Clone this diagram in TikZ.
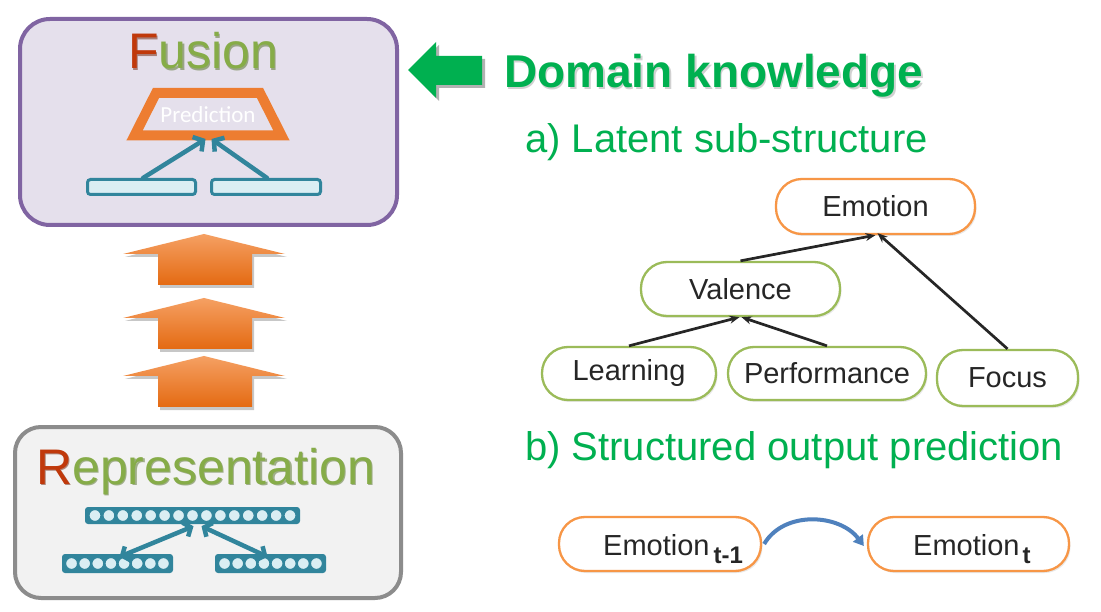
\documentclass[tikz,border=0pt]{standalone}
\usepackage{fontspec}
\setmainfont{Liberation Sans}
\newfontfamily\calibrifont{Carlito}
\usetikzlibrary{arrows.meta,calc,shadows}
\definecolor{purp}{HTML}{8064A2}
\definecolor{purpfill}{HTML}{E5E0EC}
\definecolor{grayb}{HTML}{8C8C8C}
\definecolor{grayfill}{HTML}{F2F2F2}
\definecolor{tealc}{HTML}{31859C}
\definecolor{lightb}{HTML}{DAEEF3}
\definecolor{orgc}{HTML}{ED7D31}
\definecolor{orgtop}{HTML}{F5A063}
\definecolor{orgbot}{HTML}{E46A12}
\definecolor{orgnode}{HTML}{F79646}
\definecolor{grnnode}{HTML}{9BBB59}
\definecolor{kgreen}{HTML}{00B050}
\definecolor{fred}{HTML}{C0390B}
\definecolor{fredshadow}{HTML}{6E1F05}
\definecolor{fgreen}{HTML}{86AC48}
\definecolor{fshadow}{HTML}{4E6B20}
\definecolor{blc}{HTML}{4F81BD}
\definecolor{inkc}{HTML}{262626}
\newcommand{\myvecbar}[4]{% x1 x2 ymid n
  \pgfmathsetmacro{\vspace}{(#2-#1-6)/#4}
  \foreach \i in {1,...,#4}{
    \filldraw[fill=lightb, draw=tealc, line width=1.2]
      ({#1+3+\vspace*(\i-0.5)},#3) circle[radius=6];
  }
}
\begin{document}
\begin{tikzpicture}[x=1pt,y=-1pt,
  tnode/.style={draw, line width=2.3, rounded corners=26, fill=white, inner sep=0,
    font=\fontsize{29}{34}\selectfont, text=inkc,
    drop shadow={shadow xshift=1.5pt, shadow yshift=-2pt, opacity=.18}},
  gnode/.style={tnode, draw=grnnode},
  onode/.style={tnode, draw=orgnode},
  lbox/.style={draw=tealc, fill=lightb, line width=3, rounded corners=3, inner sep=0},
  vbar/.style={fill=tealc, rounded corners=3, inner sep=0},
  tarrow/.style={draw=tealc, line width=4.5, line cap=round},
  karrow/.style={draw=inkc, line width=2.7, -{Stealth[length=10,width=8]}},
  sect/.style={text=kgreen, font=\fontsize{40}{44}\selectfont, anchor=base west, inner sep=0},
  title/.style={anchor=base west, inner sep=0, font=\fontsize{50}{52}\selectfont},
]
\useasboundingbox (0,0) rectangle (1101,612);
\fill[white] (0,0) rectangle (1101,612);

% ---------- Fusion box ----------
\node[draw=purp, fill=purpfill, line width=4, rounded corners=30,
  minimum width=377, minimum height=206, inner sep=0] (fusion) at (208.5,122) {};
\node[title, opacity=.5] at (129.3,70.3) {\textcolor{fredshadow}{F}\textcolor{fshadow}{usion}};
\node[title] (fusiontxt) at (128,69) {\textcolor{fred}{F}\textcolor{fgreen}{usion}};
\draw[orgc, line width=10, line join=miter] (156,93) -- (260,93) -- (281.5,135.5) -- (134.5,135.5) -- cycle;
\node[text=white, font=\calibrifont\fontsize{23}{25}\selectfont, inner sep=0] (pred) at (208,115) {Prediction};
\coordinate (pbot) at (208.5,139);
\node[lbox, minimum width=108, minimum height=15] (fl) at (141.5,187) {};
\node[lbox, minimum width=109, minimum height=15] (fr) at (266,187) {};
\draw[tarrow, -{Straight Barb[length=7,width=17]}] ([xshift=1.5pt]fl.north) -- ([xshift=-3pt]pbot);
\draw[tarrow, -{Straight Barb[length=7,width=17]}] ([xshift=1pt]fr.north) -- ([xshift=3pt]pbot);

% ---------- orange up arrows ----------
\foreach \t [count=\k] in {234,298,356}{
  \fill[black, opacity=.22] (206,\t+2) -- (287,\t+23) -- (254,\t+23) -- (254,\t+54) -- (160,\t+54) -- (160,\t+23) -- (125,\t+23) -- cycle;
  \shade[top color=orgtop, bottom color=orgbot]
    (204,\t) -- (285,\t+20) -- (252,\t+20) -- (252,\t+51) -- (158,\t+51) -- (158,\t+20) -- (123,\t+20) -- cycle;
  \coordinate (up\k) at (204,\t);
}

% ---------- Representation box ----------
\node[draw=grayb, fill=grayfill, line width=4, rounded corners=26,
  minimum width=386, minimum height=171, inner sep=0] (repr) at (208,512.5) {};
\node[title, opacity=.5] at (37.3,485.3) {\textcolor{fredshadow}{R}\textcolor{fshadow}{epresentation}};
\node[title] (reprtxt) at (36,484) {\textcolor{fred}{R}\textcolor{fgreen}{epresentation}};
\node[vbar, minimum width=215, minimum height=17] (vtop) at (192.5,515.5) {};
\node[vbar, minimum width=111, minimum height=19] (vl) at (117.5,563.5) {};
\node[vbar, minimum width=111, minimum height=19] (vr) at (270.5,563.5) {};
\myvecbar{85}{300}{515.5}{15}
\myvecbar{62}{173}{563.5}{8}
\myvecbar{215}{326}{563.5}{8}
\draw[tarrow, {Straight Barb[length=6,width=15]}-{Straight Barb[length=6,width=15]}]
  ([xshift=1pt,yshift=-2pt]vtop.south) -- ([xshift=2pt,yshift=-3pt]vl.north);
\draw[tarrow, {Straight Barb[length=6,width=15]}-{Straight Barb[length=6,width=15]}]
  ([xshift=9pt,yshift=-2pt]vtop.south) -- ([xshift=-3pt,yshift=-3pt]vr.north);

% ---------- Domain knowledge ----------
\fill[black, opacity=.3] (411,72) -- (439,45) -- (439,59) -- (485,59) -- (485,88) -- (439,88) -- (439,101) -- cycle;
\fill[kgreen] (408,70) -- (436,42) -- (436,56) -- (482,56) -- (482,85) -- (436,85) -- (436,98) -- cycle;
\coordinate (garrow) at (408,70);
\node[anchor=base west, inner sep=0, font=\bfseries\fontsize{46}{50}\selectfont, text=black, opacity=.18]
  at (505.5,89.5) {Domain knowledge};
\node[anchor=base west, inner sep=0, font=\bfseries\fontsize{46}{50}\selectfont, text=kgreen] (dk)
  at (504,88) {Domain knowledge};
\node[sect] (secta) at (525,153) {a) Latent sub-structure};
\node[sect] (sectb) at (525,460) {b) Structured output prediction};

% ---------- tree ----------
\node[onode, minimum width=199, minimum height=55] (emo) at (875.5,206.5) {Emotion};
\node[gnode, minimum width=199, minimum height=54] (val) at (740.5,289) {Valence};
\node[gnode, minimum width=174, minimum height=53] (learn) at (629,373.5) {Learning};
\node[gnode, minimum width=198, minimum height=53] (perf) at (827,373.5) {Performance};
\node[gnode, minimum width=141, minimum height=56] (focus) at (1007.5,378) {Focus};
\draw[karrow] (val.north) -- (emo.south);
\draw[karrow] (focus.north) -- ([xshift=2pt,yshift=2pt]emo.south);
\draw[karrow] (learn.north) -- ([xshift=-1pt]val.south);
\draw[karrow] (perf.north) -- ([xshift=1pt]val.south);

% ---------- structured output ----------
\node[onode, minimum width=202, minimum height=54] (e1) at (660,544) {};
\node[onode, minimum width=201, minimum height=54] (e2) at (968.5,544) {};
\node[anchor=base west, inner sep=0, font=\fontsize{29}{34}\selectfont, text=inkc] (e1lab)
  at (603,555) {Emotion\hspace{4pt}\raisebox{-8pt}{\fontsize{24}{26}\bfseries t-1}};
\node[anchor=base west, inner sep=0, font=\fontsize{29}{34}\selectfont, text=inkc] (e2lab)
  at (913,555) {Emotion\hspace{3pt}\raisebox{-8pt}{\fontsize{24}{26}\bfseries t}};
\draw[blc, line width=4, -{Triangle[length=10,width=12]}]
  ([xshift=2pt]e1.east) .. controls +(20,-34) and +(-24,-32) .. ([xshift=-3pt,yshift=-2pt]e2.west);
\end{tikzpicture}
\end{document}
